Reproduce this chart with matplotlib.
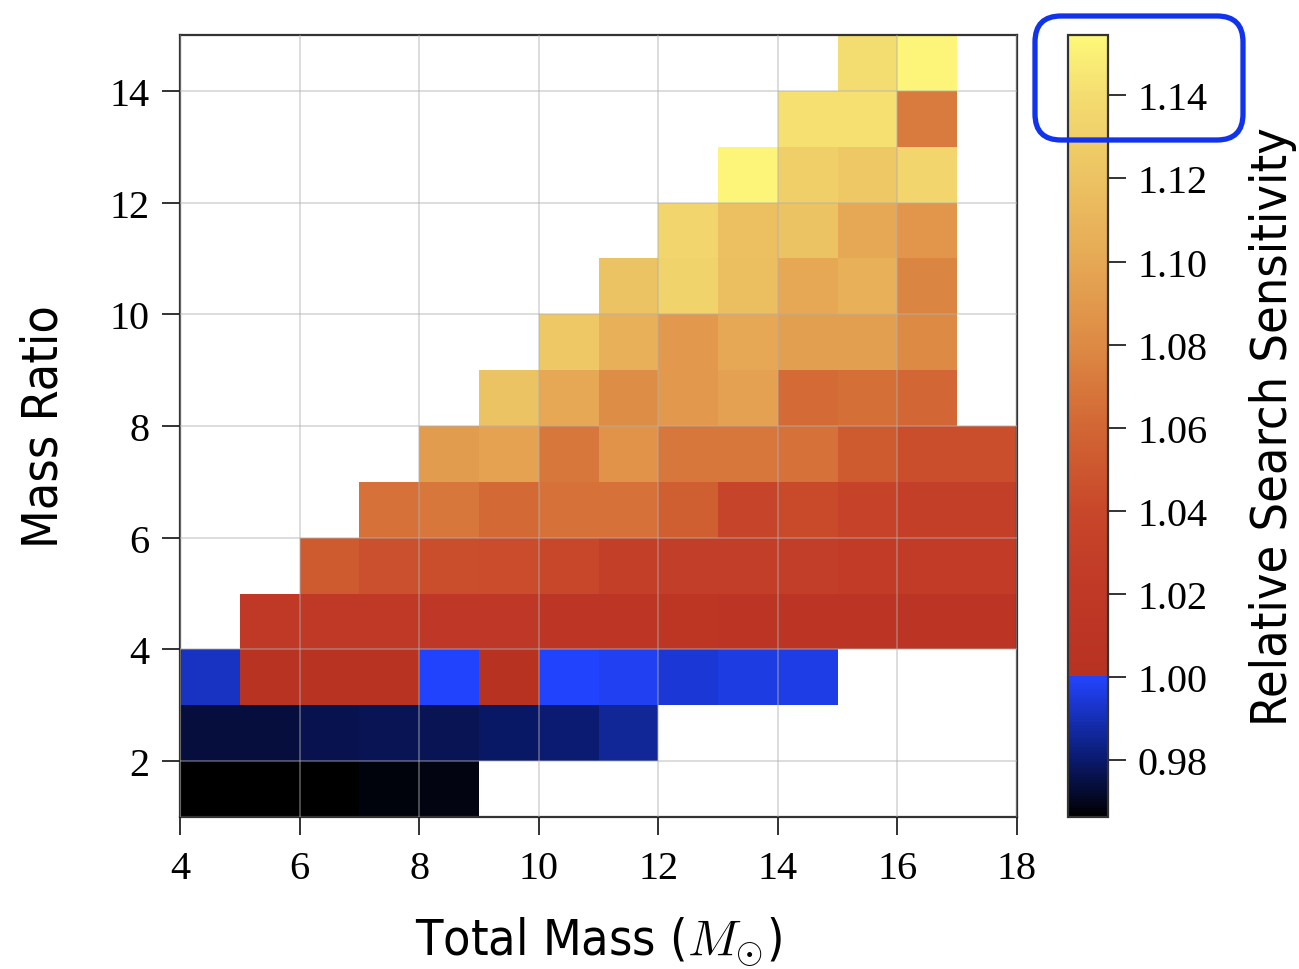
import numpy as np
import matplotlib
matplotlib.use("Agg")
import matplotlib.pyplot as plt
from matplotlib import font_manager as fm
from matplotlib.colors import LinearSegmentedColormap
from matplotlib.patches import FancyBboxPatch
from matplotlib.transforms import IdentityTransform

nan = np.nan

# bin edges
total_mass_edges = np.arange(4, 19)   # 4 .. 18
mass_ratio_edges = np.arange(1, 16)   # 1 .. 15

# relative search sensitivity, one row per mass ratio bin (bottom -> top),
# one column per total mass bin (4..17)
row_q1 = [0.966, 0.966, 0.966, 0.968, 0.969, nan, nan, nan, nan, nan, nan, nan, nan, nan]
row_q2 = [0.974, 0.974, 0.976, 0.977, 0.977, 0.979, 0.981, 0.986, nan, nan, nan, nan, nan, nan]
row_q3 = [0.992, 1.002, 1.002, 1.002, 0.9995, 1.001, 0.9995, 0.998, 0.995, 0.996, 0.997, nan, nan, nan]
row_q4 = [nan, 1.020, 1.020, 1.020, 1.018, 1.018, 1.014, 1.013, 1.012, 1.008, 1.008, 1.008, 1.008, 1.008]
row_q5 = [nan, nan, 1.052, 1.046, 1.044, 1.043, 1.040, 1.030, 1.028, 1.028, 1.028, 1.024, 1.024, 1.024]
row_q6 = [nan, nan, nan, 1.066, 1.070, 1.062, 1.066, 1.066, 1.055, 1.036, 1.042, 1.034, 1.030, 1.030]
row_q7 = [nan, nan, nan, nan, 1.092, 1.097, 1.070, 1.086, 1.070, 1.070, 1.066, 1.052, 1.044, 1.044]
row_q8 = [nan, nan, nan, nan, nan, 1.120, 1.100, 1.082, 1.090, 1.095, 1.063, 1.065, 1.060, nan]
row_q9 = [nan, nan, nan, nan, nan, nan, 1.124, 1.106, 1.090, 1.100, 1.094, 1.094, 1.080, nan]
row_q10 = [nan, nan, nan, nan, nan, nan, nan, 1.120, 1.133, 1.117, 1.100, 1.106, 1.077, nan]
row_q11 = [nan, nan, nan, nan, nan, nan, nan, nan, 1.134, 1.118, 1.120, 1.100, 1.088, nan]
row_q12 = [nan, nan, nan, nan, nan, nan, nan, nan, nan, 1.153, 1.130, 1.125, 1.135, nan]
row_q13 = [nan, nan, nan, nan, nan, nan, nan, nan, nan, nan, 1.142, 1.142, 1.072, nan]
row_q14 = [nan, nan, nan, nan, nan, nan, nan, nan, nan, nan, nan, 1.140, 1.153, nan]

sensitivity = np.array([row_q1, row_q2, row_q3, row_q4, row_q5, row_q6, row_q7,
                        row_q8, row_q9, row_q10, row_q11, row_q12, row_q13, row_q14])

x_ticks = [4, 6, 8, 10, 12, 14, 16, 18]
y_ticks = [2, 4, 6, 8, 10, 12, 14]
cbar_ticks = [0.98, 1.00, 1.02, 1.04, 1.06, 1.08, 1.10, 1.12, 1.14]

vmin, vmax = 0.9664, 1.1545

# colour map: black -> blue below 1, red -> orange -> yellow above 1
anchors = [(vmin, "#000000"), (0.980, "#0a1a6e"), (0.9999, "#2244ff"),
           (1.000, "#b83222"), (1.020, "#c03826"), (1.040, "#c8472a"),
           (1.060, "#d26634"), (1.080, "#dd8a44"), (1.100, "#e6a855"),
           (1.120, "#ecc262"), (1.140, "#f4dc70"), (vmax, "#fef87a")]
cmap = LinearSegmentedColormap.from_list(
    "sens", [((v - vmin) / (vmax - vmin), c) for v, c in anchors])

plt.rcParams["mathtext.fontset"] = "cm"

# look for a narrow sans font for the axis labels
narrow = None
for f in fm.fontManager.ttflist:
    nm = f.name + " " + str(f.fname)
    is_narrow = ("Narrow" in nm or "Condensed" in nm or f.stretch in ("condensed", "semi-condensed"))
    if is_narrow and f.style == "normal" and f.weight in (400, "normal", "regular") \
            and "Serif" not in nm and "Mono" not in nm:
        narrow = f.fname
        break

if narrow:
    label_prop = fm.FontProperties(fname=narrow, size=36)
else:
    label_prop = fm.FontProperties(family="Liberation Sans", size=31)

tick_font = {"family": ["Liberation Serif", "DejaVu Serif"], "size": 29}

fig = plt.figure(figsize=(12.99, 9.70), dpi=100)
ax = fig.add_axes([0.1386, 0.1567, 0.6443, 0.8062])
cax = fig.add_axes([0.8222, 0.1567, 0.0308, 0.8062])

mesh = ax.pcolormesh(total_mass_edges, mass_ratio_edges,
                     np.ma.masked_invalid(sensitivity),
                     cmap=cmap, vmin=vmin, vmax=vmax)

ax.set_xlim(4, 18)
ax.set_ylim(1, 15)
ax.set_xticks(x_ticks)
ax.set_yticks(y_ticks)
ax.set_xticklabels([str(t) for t in x_ticks], fontdict=tick_font)
ax.set_yticklabels([str(t) for t in y_ticks], fontdict=tick_font)
ax.tick_params(direction="out", length=13, width=1.3, color="#222222")
ax.tick_params(axis="x", pad=11)
ax.tick_params(axis="y", pad=9)
ax.grid(True, color="#b0b0b0", lw=1.2, alpha=0.5)
ax.set_axisbelow(False)
for sp in ax.spines.values():
    sp.set_color("#333333")
    sp.set_linewidth(1.6)

ax.set_xlabel(r"Total Mass ($M_{\odot}$)", fontproperties=label_prop, labelpad=20)
ax.set_ylabel("Mass Ratio", fontproperties=label_prop, labelpad=30)

cb = fig.colorbar(mesh, cax=cax, ticks=cbar_ticks)
cb.ax.set_yticklabels(["%.2f" % t for t in cbar_ticks], fontdict=tick_font)
cb.ax.tick_params(direction="out", length=13, width=1.3, color="#222222", pad=8)
cb.outline.set_edgecolor("#333333")
cb.outline.set_linewidth(1.6)
cb.set_label("Relative Search Sensitivity", fontproperties=label_prop, labelpad=30)

# blue highlight box around the top of the colour bar (pixel coordinates)
box = FancyBboxPatch((1035, 970 - 141), 208, 124,
                     boxstyle="round,pad=0,rounding_size=26",
                     transform=IdentityTransform(), fill=False,
                     edgecolor="#1133ee", linewidth=3.8, zorder=10)
fig.patches.append(box)

fig.savefig("out.png", dpi=100)
